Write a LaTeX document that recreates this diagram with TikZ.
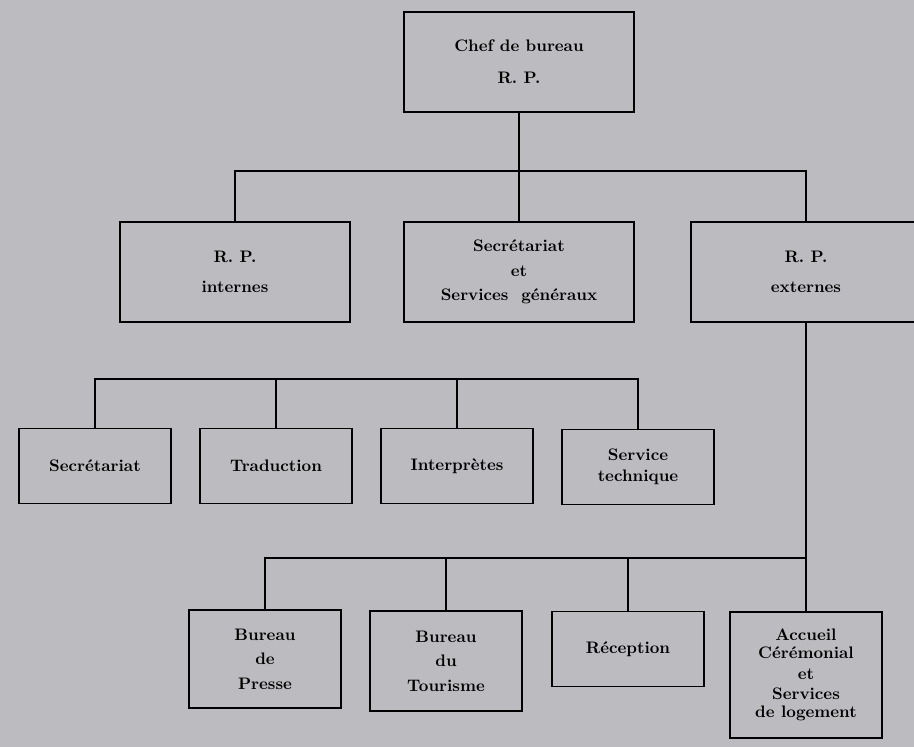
\documentclass[tikz,border=0pt]{standalone}
\usepackage{tikz}
\usetikzlibrary{calc,backgrounds}
\definecolor{scangray}{RGB}{188,188,192}
\tikzstyle{orgchart}=[
  x=0.02cm, y=-0.02cm, line width=1.1pt,
  font=\bfseries\fontsize{9.5}{14}\selectfont
]
\tikzstyle{orgbox}=[
  draw, rectangle, inner sep=2pt, align=center, fill=scangray
]
\tikzstyle{bigbox}=[
  orgbox, minimum width=4.6cm, minimum height=2cm
]
\tikzstyle{smallbox}=[
  orgbox, minimum width=3.05cm, minimum height=1.5cm
]
\tikzstyle{orgline}=[
  line width=1.1pt
]

\begin{document}
\begin{tikzpicture}[orgchart]
    \useasboundingbox (0,0) rectangle (914,747);
      \node (chef) at (519,62) [bigbox] {Chef de bureau\\[4pt] R. P.};
      \node (inter) at (235,272) [bigbox] {R. P.\\[3pt] internes};
      \node (secgen) at (519,272) [bigbox] {Secrétariat\\ et\\ Services\ \ généraux};
      \node (exter) at (806,272) [bigbox] {R. P.\\[3pt] externes};
      \node (secr) at (95,466) [smallbox] {Secrétariat};
      \node (trad) at (276,466) [smallbox] {Traduction};
      \node (interp) at (457,466) [smallbox] {Interprètes};
      \node (servtech) at (638,467) [smallbox] {Service\\[-2pt] technique};
      \node (presse) at (265,659) [smallbox, minimum height=1.96cm] {Bureau\\ de\\ Presse};
      \node (tourisme) at (446,661) [smallbox, minimum height=2cm] {Bureau\\ du\\ Tourisme};
      \node (recep) at (628,649) [smallbox] {Réception};
      \node (accueil) at (806,675) [smallbox, minimum height=2.52cm,
        font=\bfseries\fontsize{9.5}{10.5}\selectfont] {Accueil\\ Cérémonial\\[1pt] et\\[1pt] Services\\ de logement};
      \coordinate (topbar) at (519,171);
      \coordinate (midbar) at (457,379);
      \coordinate (botbar) at (806,558);
    \begin{scope}[on background layer]
      \fill [scangray] (0,0) rectangle (914,747);
      \draw [orgline] (chef) -- (secgen);
      \draw [orgline] (inter) |- (topbar) -| (exter);
      \draw [orgline] (secr) |- (midbar) -| (servtech);
      \draw [orgline] (trad) -- (trad |- midbar);
      \draw [orgline] (interp) -- (midbar);
      \draw [orgline] (exter) -- (accueil);
      \draw [orgline] (presse) |- (botbar);
      \draw [orgline] (tourisme) -- (tourisme |- botbar);
      \draw [orgline] (recep) -- (recep |- botbar);
    \end{scope}
\end{tikzpicture}
\end{document}
